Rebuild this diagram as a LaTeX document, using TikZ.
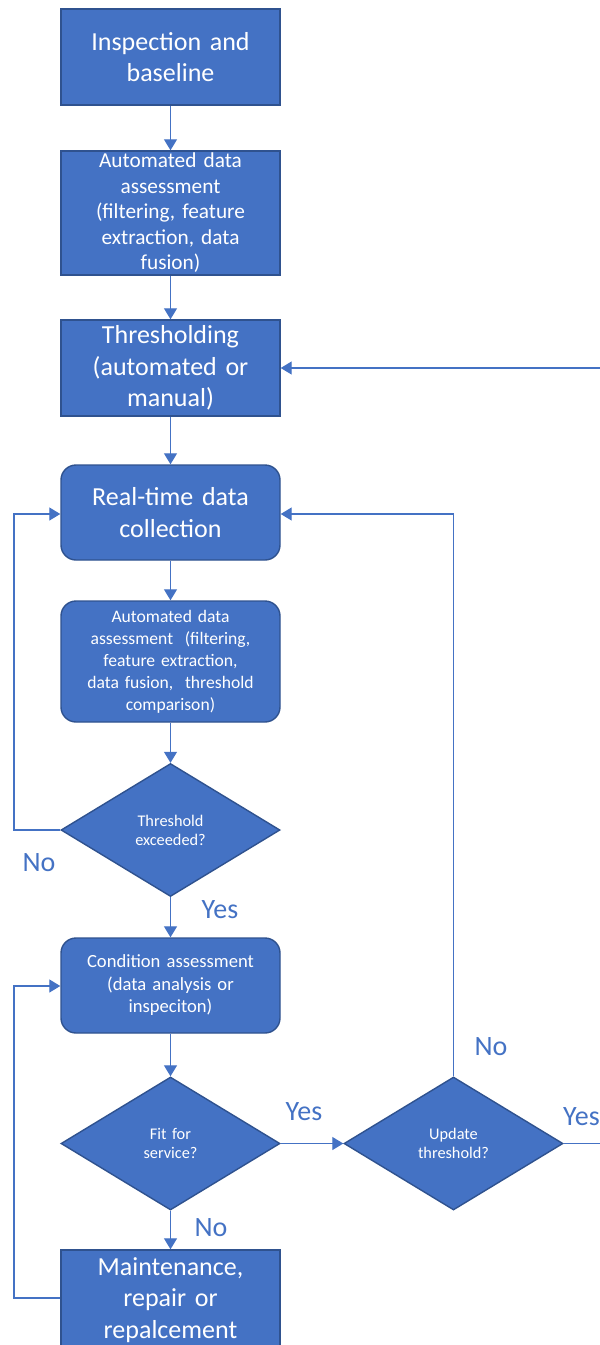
\documentclass[tikz,border=0pt]{standalone}
\usepackage{fontspec}
\setmainfont{Carlito}
\usetikzlibrary{shapes.geometric,arrows.meta}
\definecolor{boxfill}{HTML}{4472C4}
\definecolor{boxline}{HTML}{2F528F}
\begin{document}
\begin{tikzpicture}[x=1pt,y=-1pt,
  base/.style={draw=boxline,line width=1.4pt,fill=boxfill,text=white,align=center,inner sep=2pt,minimum width=219pt},
  sqbox/.style={base,rectangle},
  rbox/.style={base,rectangle,rounded corners=15pt},
  dec/.style={base,diamond,shape aspect=1.63,minimum width=219pt,minimum height=133pt,inner sep=0pt},
  big/.style={font=\fontsize{26}{31.5}\selectfont},
  mid/.style={font=\fontsize{21.3}{25.5}\selectfont},
  sml/.style={font=\fontsize{17.6}{22}\selectfont},
  smlb/.style={font=\fontsize{18.6}{22.5}\selectfont},
  tiny/.style={font=\fontsize{16.3}{19}\selectfont},
  conn/.style={draw=boxfill,line width=1.3pt,-{Triangle[width=13pt,length=11pt]}},
  lbl/.style={text=boxfill,font=\fontsize{28}{31}\selectfont,inner sep=0pt}]
\useasboundingbox (0,0) rectangle (600,1345);
\node[sqbox,big,minimum height=96pt,text width=210pt] (b1) at (170.5,57) {Inspection and\\baseline};
\node[sqbox,mid,minimum height=124pt,text width=210pt] (b2) at (170.5,213) {Automated data\\assessment\\(filtering, feature\\extraction, data\\fusion)};
\node[sqbox,big,minimum height=96pt,text width=210pt] (b3) at (170.5,368) {Thresholding\\(automated or\\manual)};
\node[rbox,big,minimum height=95pt,text width=210pt] (b4) at (170.5,512.5) {Real-time data\\collection};
\node[rbox,sml,minimum height=121pt,text width=210pt] (b5) at (170.5,661.5) {Automated data\\assessment\ \ (filtering,\\feature extraction,\\data fusion,\ \ threshold\\comparison)};
\node[dec,tiny,text width=90pt] (d1) at (170.5,830) {Threshold\\exceeded?};
\node[rbox,smlb,minimum height=95pt,text width=210pt] (b6) at (170.5,985.5) {Condition assessment\\(data analysis or\\inspeciton)};
\node[dec,tiny,text width=90pt] (d2) at (170.5,1143.5) {Fit for\\service?};
\node[dec,tiny,text width=90pt] (d3) at (453.5,1143.5) {Update\\threshold?};
\node[sqbox,big,minimum height=100pt,text width=210pt] (b7) at (170.5,1300) {Maintenance,\\repair or\\repalcement};
\coordinate (rin) at (600,368);
\coordinate (rout) at (600,1143.5);
\draw[conn] (b1) -- (b2);
\draw[conn] (b2) -- (b3);
\draw[conn] (b3) -- (b4);
\draw[conn] (b4) -- (b5);
\draw[conn] (b5) -- (d1);
\draw[conn] (d1) -- (b6);
\draw[conn] (b6) -- (d2);
\draw[conn] (d2) -- (b7);
\draw[conn] (d2) -- (d3);
\draw[conn] (rin) -- (b3.east);
\draw[conn] (d1.west) -- (14,830) -- (14,514) -- (b4.west |- 0,514);
\draw[conn] (b7.west |- 0,1298) -- (14,1298) -- (14,986) -- (b6.west |- 0,986);
\draw[conn] (d3.north) -- (453.5,514) -- (b4.east |- 0,514);
\draw[draw=boxfill,line width=1.3pt] (d3.east) -- (rout);
\node[lbl] (l1) at (39,863) {No};
\node[lbl] (l2) at (220,910) {Yes};
\node[lbl] (l3) at (304,1112) {Yes};
\node[lbl] (l4) at (491,1047) {No};
\node[lbl] (l5) at (211,1228) {No};
\node[lbl,anchor=west] (l6) at (563,1117) {Yes};
\end{tikzpicture}
\end{document}
